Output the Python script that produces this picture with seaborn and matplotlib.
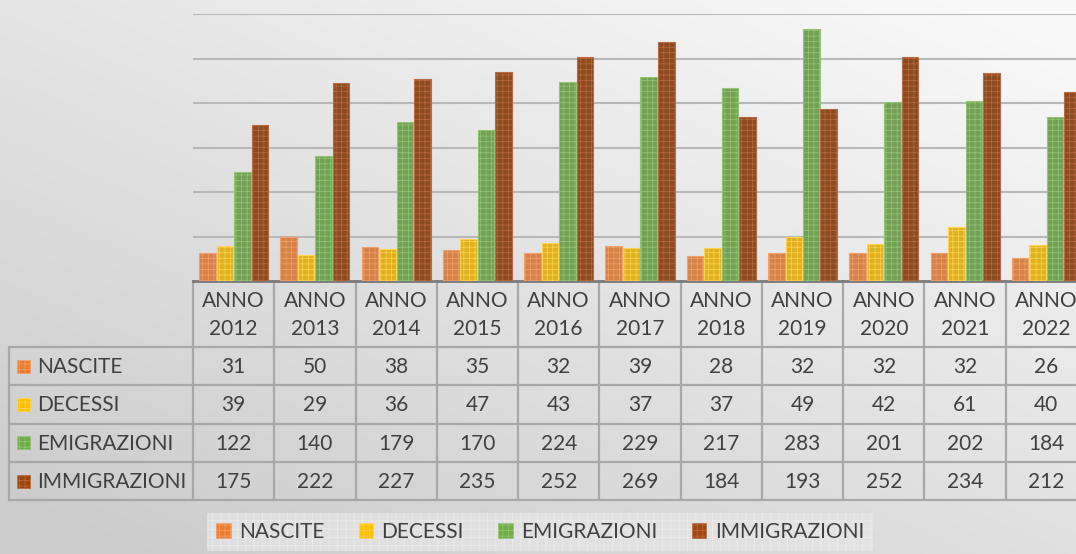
import numpy as np
import pandas as pd
import matplotlib
matplotlib.use("Agg")
import matplotlib.pyplot as plt
import seaborn as sns
from matplotlib.patches import Rectangle

# dati
anni = ["ANNO\n2012", "ANNO\n2013", "ANNO\n2014", "ANNO\n2015", "ANNO\n2016", "ANNO\n2017",
        "ANNO\n2018", "ANNO\n2019", "ANNO\n2020", "ANNO\n2021", "ANNO\n2022"]
serie = ["NASCITE", "DECESSI", "EMIGRAZIONI", "IMMIGRAZIONI"]
nascite = [31, 50, 38, 35, 32, 39, 28, 32, 32, 32, 26]
decessi = [39, 29, 36, 47, 43, 37, 37, 49, 42, 61, 40]
emigrazioni = [122, 140, 179, 170, 224, 229, 217, 283, 201, 202, 184]
immigrazioni = [175, 222, 227, 235, 252, 269, 184, 193, 252, 234, 212]
colori = ["#ED7D31", "#FFC000", "#70AD47", "#9E480E"]
chiari = ["#F2A06C", "#FFD452", "#94C575", "#B96A42"]

valori = [nascite, decessi, emigrazioni, immigrazioni]
df = pd.DataFrame({
    "Anno": anni * 4,
    "Serie": [s for s in serie for _ in anni],
    "Valore": nascite + decessi + emigrazioni + immigrazioni,
})

sns.set_theme(style="white")
plt.rcParams["font.family"] = ["Lato", "DejaVu Sans"]
plt.rcParams["hatch.linewidth"] = 0.5
testo = "#404040"
fs = 15

W, H = 1076, 554
fig = plt.figure(figsize=(W / 100, H / 100), dpi=100)

# sfondo sfumato
bg = fig.add_axes([0, 0, 1, 1], zorder=0)
xx, yy = np.meshgrid(np.linspace(0, 1, 300), np.linspace(0, 1, 160))
v = np.clip(0.5 * xx + 0.6 * yy - 0.05, 0, 1)
c0, c1 = 0.80, 0.975
img = c0 + (c1 - c0) * v
bg.imshow(np.dstack([img, img, img]), origin="lower", extent=[0, 1, 0, 1], aspect="auto")
bg.axis("off")

# grafico
ax = fig.add_axes([193 / W, 1 - 281 / H, (1087 - 193) / W, (281 - 14) / H], zorder=2)
ax.set_facecolor("none")
sns.barplot(data=df, x="Anno", y="Valore", hue="Serie", palette=colori,
            width=0.86, gap=0.05, ax=ax, legend=False, zorder=3)
for i, cont in enumerate(ax.containers):
    for b in cont:
        b.set_hatch("+++")
        b.set_edgecolor(chiari[i])
        b.set_linewidth(0.8)
ax.set_ylim(0, 300)
ax.set_xlim(-0.5, len(anni) - 0.5)
ax.set_yticks(range(50, 301, 50))
ax.yaxis.grid(True, color="#b8b8b8", linewidth=1.5)
ax.set_axisbelow(True)
ax.set_xticks([])
ax.set_yticklabels([])
ax.set_xlabel("")
ax.set_ylabel("")
ax.tick_params(left=False, bottom=False)
for s in ["left", "right", "top"]:
    ax.spines[s].set_visible(False)
ax.spines["bottom"].set_color("#7a7a7a")
ax.spines["bottom"].set_linewidth(2)

# tabella dati
tab = fig.add_axes([0, 0, 1, 1], zorder=1)
tab.set_xlim(0, W)
tab.set_ylim(H, 0)
tab.axis("off")

def px(x):
    return ax.transData.transform((x, 0))[0]

bordi = [px(i - 0.5) for i in range(len(anni) + 1)]
centri = [px(i) for i in range(len(anni))]
y_top, y_head = 281, 347
righe = [347, 385.3, 423.6, 461.9, 500.2]
lc, lw = "#a8a8a8", 1.6
x_left = 9

for xb in bordi:
    tab.plot([xb, xb], [y_top, righe[-1]], color=lc, lw=lw)
tab.plot([x_left, x_left], [y_head, righe[-1]], color=lc, lw=lw)
for yr in righe:
    tab.plot([x_left, W + 20], [yr, yr], color=lc, lw=lw)

for xc, a in zip(centri, anni):
    tab.text(xc, (y_top + y_head) / 2 + 1, a, ha="center", va="center",
             fontsize=fs, color=testo, linespacing=1.5)

for r, (nome, vals) in enumerate(zip(serie, valori)):
    ym = (righe[r] + righe[r + 1]) / 2
    tab.add_patch(Rectangle((17, ym - 6.5), 13, 13, facecolor=colori[r],
                            edgecolor=chiari[r], hatch="+++", lw=0.5))
    tab.text(37, ym + 1, nome, ha="left", va="center", fontsize=fs, color=testo)
    for xc, val in zip(centri, vals):
        tab.text(xc, ym + 1, str(val), ha="center", va="center", fontsize=fs, color=testo)

# legenda
handles = [Rectangle((0, 0), 1, 1, facecolor=c, edgecolor=l, hatch="+++", lw=0.5)
           for c, l in zip(colori, chiari)]
leg = fig.legend(handles, serie, loc="center", bbox_to_anchor=(540 / W, 1 - 532 / H),
                 ncol=4, frameon=True, fontsize=fs, handlelength=0.7, handleheight=0.7,
                 handletextpad=0.4, columnspacing=1.65, borderpad=0.45, borderaxespad=0,
                 fancybox=False, labelcolor=testo)
fr = leg.get_frame()
fr.set_facecolor("#e4e4e4")
fr.set_edgecolor("#f0f0f0")
fr.set_hatch("++")
fr.set_linewidth(0)
leg.set_zorder(5)

fig.savefig("out.png", dpi=100)
